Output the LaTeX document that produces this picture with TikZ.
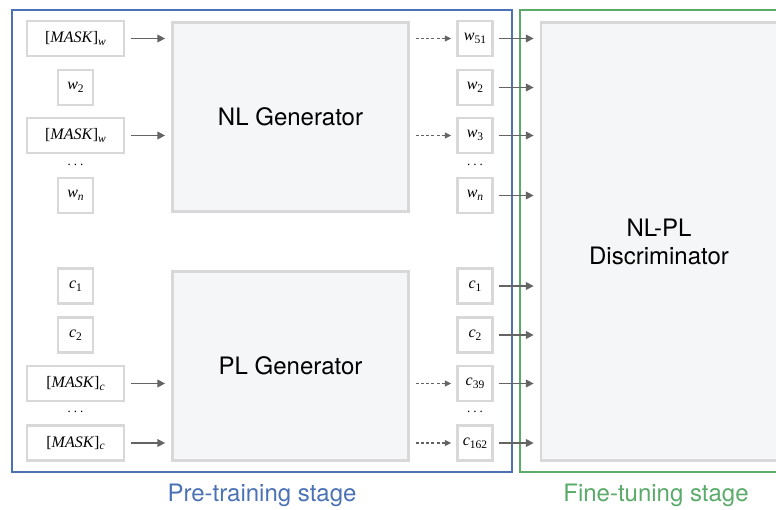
\documentclass[tikz,border=0pt]{standalone}
\usepackage{fontspec}
\setmainfont{Liberation Serif}
\setsansfont{TeX Gyre Heros}
\usetikzlibrary{arrows.meta}

\definecolor{stageblue}{RGB}{74,114,181}
\definecolor{stagegreen}{RGB}{90,170,106}
\definecolor{boxgray}{RGB}{216,216,216}
\definecolor{genfill}{RGB}{245,246,248}
\definecolor{arrowgray}{RGB}{100,100,100}

% token labels in Times-like italics with upright numeric subscripts
\newcommand{\tokensub}[1]{\raisebox{-0.35ex}{\fontsize{11.5}{11.5}\selectfont #1}}
\newcommand{\tok}[2]{\textit{#1}\tokensub{#2}}
\newcommand{\masktok}[1]{[\textit{MASK}]\tokensub{\textit{#1}}}
\newcommand{\lowdots}{.\hspace{3pt}.\hspace{3pt}.}

\tikzset{
  token/.style={draw=boxgray, line width=2.4pt, fill=white, inner sep=0pt,
    minimum height=35pt, font=\fontsize{16}{18}\selectfont},
  smalltok/.style={token, minimum width=35pt},
  widetok/.style={token, minimum width=97pt},
  genbox/.style={draw=boxgray, line width=2.4pt, fill=genfill, inner sep=0pt,
    font=\sffamily\fontsize{24}{28}\selectfont, align=center},
  dotsnode/.style={inner sep=0pt, font=\fontsize{13}{13}\selectfont},
  feed/.style={draw=arrowgray, line width=1.9pt,
    -{Triangle[length=8pt,width=7.5pt]}},
  predict/.style={draw=arrowgray, line width=1.3pt, dash pattern=on 3pt off 2.2pt,
    -{Triangle[length=6.5pt,width=6pt]}},
  stagelabel/.style={font=\sffamily\fontsize{24}{28}\selectfont},
}

\begin{document}
\begin{tikzpicture}[x=1pt, y=-1pt]
\useasboundingbox (0,0) rectangle (776,510);
\clip (0,0) rectangle (776,510);

% stage frames
\draw[stageblue, line width=2pt] (12,10) rectangle (512,472);
\draw[stagegreen, line width=2pt] (520,10) rectangle (800,472);

% generators and discriminator
\node[genbox, minimum width=236pt, minimum height=189pt] (nlgen) at (290.5,117) {NL Generator};
\node[genbox, minimum width=236pt, minimum height=189pt] (plgen) at (290.5,366) {PL Generator};
\node[genbox, minimum width=236pt, minimum height=438pt] (disc) at (659,241.5) {NL-PL\\Discriminator};

% natural-language input tokens
\node[widetok] (inw1) at (75.5,38.5) {\masktok{w}};
\node[smalltok] (inw2) at (75.5,87.5) {\tok{w}{2}};
\node[widetok] (inw3) at (75.5,135.5) {\masktok{w}};
\node[dotsnode] (inwd) at (75.5,165) {\lowdots};
\node[smalltok] (inwn) at (75.5,195.5) {\tok{w}{\textit{n}}};

% code input tokens
\node[smalltok] (inc1) at (75.5,286) {\tok{c}{1}};
\node[smalltok] (inc2) at (75.5,335) {\tok{c}{2}};
\node[widetok] (inc3) at (75.5,383.5) {\masktok{c}};
\node[dotsnode] (incd) at (75.5,412) {\lowdots};
\node[widetok] (inc4) at (75.5,443) {\masktok{c}};

% natural-language output tokens
\node[smalltok] (outw1) at (475,38.5) {\tok{w}{51}};
\node[smalltok] (outw2) at (475,87.5) {\tok{w}{2}};
\node[smalltok] (outw3) at (475,135.5) {\tok{w}{3}};
\node[dotsnode] (outwd) at (475,165) {\lowdots};
\node[smalltok] (outwn) at (475,195.5) {\tok{w}{\textit{n}}};

% code output tokens
\node[smalltok] (outc1) at (475,286) {\tok{c}{1}};
\node[smalltok] (outc2) at (475,335) {\tok{c}{2}};
\node[smalltok] (outc3) at (475,383.5) {\tok{c}{39}};
\node[dotsnode] (outcd) at (475,412) {\lowdots};
\node[smalltok] (outc4) at (475,443) {\tok{c}{162}};

% masked tokens fed into the generators
\draw[feed] ([xshift=6pt]inw1.east) -- ([xshift=-6pt]inw1.east -| nlgen.west);
\draw[feed] ([xshift=6pt]inw3.east) -- ([xshift=-6pt]inw3.east -| nlgen.west);
\draw[feed] ([xshift=6pt]inc3.east) -- ([xshift=-6pt]inc3.east -| plgen.west);
\draw[feed] ([xshift=6pt]inc4.east) -- ([xshift=-6pt]inc4.east -| plgen.west);

% generated replacements
\draw[predict] ([xshift=6pt]outw1.west -| nlgen.east) -- ([xshift=-5pt]outw1.west);
\draw[predict] ([xshift=6pt]outw3.west -| nlgen.east) -- ([xshift=-5pt]outw3.west);
\draw[predict] ([xshift=6pt]outc3.west -| plgen.east) -- ([xshift=-5pt]outc3.west);
\draw[predict] ([xshift=6pt]outc4.west -| plgen.east) -- ([xshift=-5pt]outc4.west);

% all tokens go to the discriminator
\foreach \t in {outw1,outw2,outw3,outwn,outc1,outc2,outc3,outc4} {
  \draw[feed] ([xshift=5pt]\t.east) -- ([xshift=-6pt]\t.east -| disc.west);
}

% stage captions
\node[stagelabel, text=stageblue] (pretrain) at (262,495) {Pre-training stage};
\node[stagelabel, text=stagegreen] (finetune) at (656,495) {Fine-tuning stage};
\end{tikzpicture}
\end{document}
